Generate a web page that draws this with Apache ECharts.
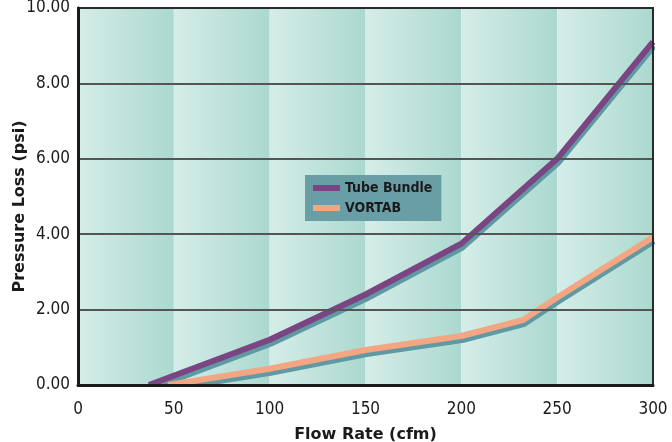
<!DOCTYPE html>
<html><head><meta charset="utf-8">
<script src="https://cdn.jsdelivr.net/npm/echarts@6/dist/echarts.min.js"></script>
<style>html,body{margin:0;padding:0;background:#fff;}#c{width:672px;height:442px;}</style>
</head><body><div id="c"></div>
<script>
// Data
var tubeFlow = [37, 100, 150, 200, 250, 300];
var tubeLoss = [0, 1.2, 2.4, 3.75, 6.0, 9.1];
var vortabFlow = [47, 100, 150, 200, 232, 250, 300];
var vortabLoss = [0, 0.43, 0.93, 1.3, 1.72, 2.32, 3.92];
var xTicks = [0, 50, 100, 150, 200, 250, 300];
var yTicks = [0, 2, 4, 6, 8, 10];
var bandEdges = [0, 50, 100, 150, 200, 250, 300];

var narrow = '"Liberation Sans Narrow","DejaVu Sans Condensed","Roboto Condensed",sans-serif';
var boldFont = '"DejaVu Sans",Verdana,sans-serif';

function pairs(xs, ys){ return xs.map(function(x,i){return [x, ys[i]];}); }
var bands = [];
for (var i = 0; i < bandEdges.length - 1; i++) {
  bands.push([{xAxis: bandEdges[i], itemStyle: {color: new echarts.graphic.LinearGradient(0,0,1,0,[{offset:0,color:'#d5ede8'},{offset:1,color:'#abd9cf'}])}}, {xAxis: bandEdges[i+1]}]);
}
var gridLines = yTicks.filter(function(v){return v > 0 && v < 10;}).map(function(v){return {yAxis: v};});

var chart = echarts.init(document.getElementById('c'), null, {renderer:'canvas'});
chart.setOption({
  animation: false,
  backgroundColor: '#ffffff',
  grid: {left: 78, right: 19, top: 8, bottom: 57, containLabel: false, outerBoundsMode: 'none',
    show: true, borderColor: '#2a2a2a', borderWidth: 2, backgroundColor: 'transparent', z: 20},
  graphic: [
    {type: 'rect', shape: {x: 60, y: 387, width: 612, height: 8}, style: {fill: '#ffffff'}, z: 5, silent: true},
    {type: 'rect', shape: {x: 655, y: 0, width: 17, height: 395}, style: {fill: '#ffffff'}, z: 5, silent: true}
  ],
  legend: {
    data: [
      {name: 'Tube Bundle', itemStyle: {color: '#7b4583', shadowBlur: 0, shadowColor: 'transparent'}},
      {name: 'VORTAB', itemStyle: {color: '#f4a582', shadowBlur: 0, shadowColor: 'transparent'}}
    ],
    orient: 'vertical', left: 305, top: 175,
    backgroundColor: '#6a9ea6',
    padding: [6, 9, 6, 8],
    itemGap: 6, itemWidth: 27, itemHeight: 6, icon: 'rect',
    textStyle: {fontFamily: narrow, fontWeight: 'bold', fontSize: 14, color: '#1a1a1a'}
  },
  xAxis: {
    type: 'value', min: 0, max: 300, interval: 50, z: 30,
    name: 'Flow Rate (cfm)', nameLocation: 'middle', nameGap: 42,
    nameTextStyle: {fontFamily: boldFont, fontWeight: 'bold', fontSize: 16, color: '#1a1a1a'},
    axisLine: {show: true, lineStyle: {color: '#1a1a1a', width: 3}},
    axisTick: {show: false},
    splitLine: {show: false},
    axisLabel: {fontFamily: narrow, fontSize: 17, color: '#1a1a1a', margin: 16,
      customValues: xTicks, formatter: function(v){return String(v);}}
  },
  yAxis: {
    type: 'value', min: 0, max: 10, interval: 2, z: 30,
    name: 'Pressure Loss (psi)', nameLocation: 'middle', nameGap: 50, nameMoveOverlap: false,
    nameTextStyle: {fontFamily: boldFont, fontWeight: 'bold', fontSize: 16, color: '#1a1a1a', padding: [0, 20, 0, 0]},
    axisLine: {show: true, lineStyle: {color: '#1a1a1a', width: 3}},
    axisTick: {show: false},
    splitLine: {show: false},
    axisLabel: {fontFamily: narrow, fontSize: 17, color: '#1a1a1a', margin: 8,
      formatter: function(v){return v.toFixed(2);}}
  },
  series: [
    {name: 'bg', type: 'line', data: [], silent: true, z: 0,
     markArea: {silent: true, data: bands}},
    {name: 'grid', type: 'line', data: [], silent: true, z: 1,
     markLine: {silent: true, symbol: ['none', 'none'], label: {show: false},
       lineStyle: {color: '#555', width: 2, type: 'solid'}, data: gridLines}},
    {name: 'Tube Bundle', type: 'line', data: pairs(tubeFlow, tubeLoss), showSymbol: false, z: 3,
     lineStyle: {color: '#7b4583', width: 6, shadowColor: '#5f9aa4', shadowOffsetX: 1, shadowOffsetY: 4, shadowBlur: 0},
     itemStyle: {color: '#7b4583'}},
    {name: 'VORTAB', type: 'line', data: pairs(vortabFlow, vortabLoss), showSymbol: false, z: 3,
     lineStyle: {color: '#f4a582', width: 6, shadowColor: '#5f9aa4', shadowOffsetX: 1, shadowOffsetY: 4, shadowBlur: 0},
     itemStyle: {color: '#f4a582'}}
  ]
});
</script></body></html>
